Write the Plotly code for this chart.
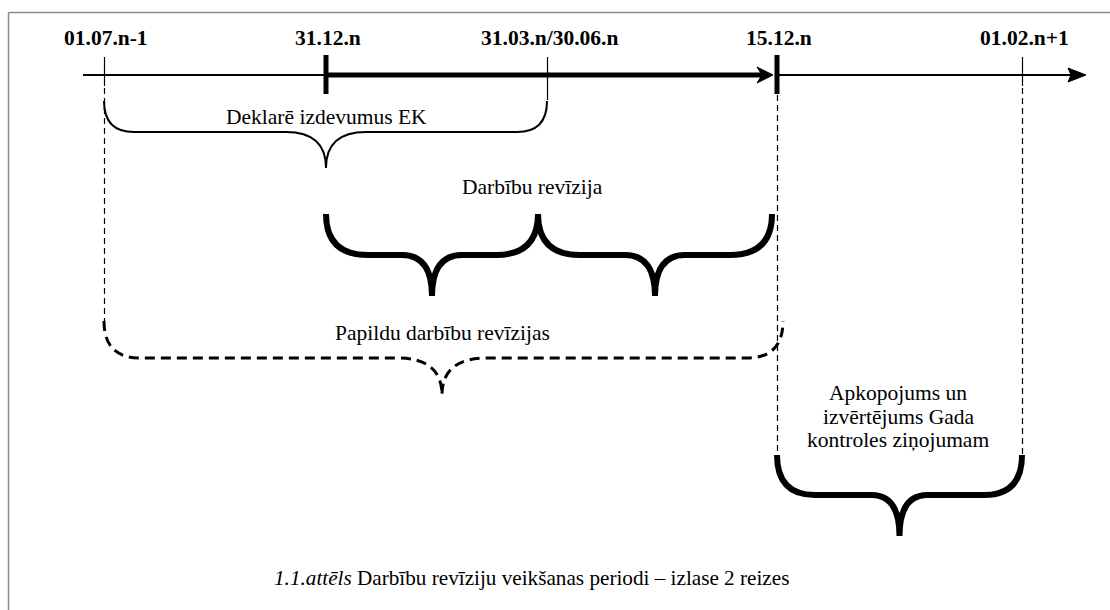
import plotly.graph_objects as go

# ---- data ----
dates = ["01.07.n-1", "31.12.n", "31.03.n/30.06.n", "15.12.n", "01.02.n+1"]
date_pos = [104, 326, 547, 777, 1022]          # position along the timeline
date_major = [False, True, False, True, False]  # thick tick marks

brace_labels = ["Deklarē izdevumus EK", "Darbību revīzija",
                "Papildu darbību revīzijas"]
summary_lines = ["Apkopojums un", "izvērtējums Gada", "kontroles ziņojumam"]
caption_italic = "1.1.attēls"
caption_text = "Darbību revīziju veikšanas periodi – izlase 2 reizes"

W, H = 1110, 610
AXIS_Y = 75
SERIF = "Liberation Serif"
FS = 21.5

fig = go.Figure()
shapes = []
ann = []


def line(x0, y0, x1, y1, width=2, dash=None, color="black"):
    d = dict(type="line", xref="x", yref="y", x0=x0, y0=y0, x1=x1, y1=y1,
             line=dict(color=color, width=width))
    if dash:
        d["line"]["dash"] = dash
    shapes.append(d)


def brace(x0, x1, ytop, yh, ytip, r, cw, width, dash=None, xt=None):
    if xt is None:
        xt = (x0 + x1) / 2
    p = (f"M {x0},{ytop} Q {x0},{yh} {x0 + r},{yh} "
         f"L {xt - cw},{yh} Q {xt},{yh} {xt},{ytip} "
         f"Q {xt},{yh} {xt + cw},{yh} "
         f"L {x1 - r},{yh} Q {x1},{yh} {x1},{ytop}")
    d = dict(type="path", xref="x", yref="y", path=p,
             line=dict(color="black", width=width))
    if dash:
        d["line"]["dash"] = dash
    shapes.append(d)


def label(x, y, text, size=FS):
    ann.append(dict(x=x, y=y, xref="x", yref="y", text=text, showarrow=False,
                    font=dict(family=SERIF, size=size, color="black"),
                    xanchor="center", yanchor="middle"))


# frame (top & left edges)
line(8.5, 12.5, W + 5, 12.5, width=1.5, color="#8a8a8a")
line(8.5, 12.5, 8.5, H + 5, width=1.5, color="#8a8a8a")

# timeline axis
x_a, x_b = date_pos[1], date_pos[3]
line(83, AXIS_Y, x_a, AXIS_Y, width=2)
line(x_a, AXIS_Y, x_b - 10, AXIS_Y, width=5)
line(x_b, AXIS_Y, 1072, AXIS_Y, width=2)
# arrow heads
shapes.append(dict(type="path", xref="x", yref="y",
                   path=f"M {x_b - 4},{AXIS_Y} L {x_b - 20},{AXIS_Y - 8} L {x_b - 15},{AXIS_Y} "
                        f"L {x_b - 20},{AXIS_Y + 8} Z",
                   fillcolor="black", line=dict(color="black", width=1)))
shapes.append(dict(type="path", xref="x", yref="y",
                   path=f"M 1086,{AXIS_Y} L 1068,{AXIS_Y - 7} L 1071,{AXIS_Y} L 1068,{AXIS_Y + 7} Z",
                   fillcolor="black", line=dict(color="black", width=1)))

# ticks and labels
for lab, xp, major in zip(dates, date_pos, date_major):
    if major:
        line(xp, 55, xp, 94, width=5)
    else:
        line(xp + 0.5, 57, xp + 0.5, 86 if xp != date_pos[2] else 100, width=1.2)
    label(xp + 2, 38, f"<b>{lab}</b>")

# dashed guide lines
line(date_pos[0] + 0.5, 88, date_pos[0] + 0.5, 322, width=1.2, dash="6px,4px")
line(date_pos[3] + 0.5, 95, date_pos[3] + 0.5, 456, width=1.2, dash="6px,4px")
line(date_pos[4] + 0.5, 88, date_pos[4] + 0.5, 456, width=1.2, dash="6px,4px")

# brace 1: declared expenditure
brace(date_pos[0], date_pos[2], 101, 132, 168, 30, 40, 2, xt=date_pos[1])
label(date_pos[1], 117, brace_labels[0])

# brace 2: audits (two thick braces)
mid = 538
brace(date_pos[1], mid, 214, 255, 296, 42, 30, 6)
brace(mid, 772, 214, 255, 296, 42, 30, 6)
label(mid - 6, 187, brace_labels[1])

# brace 3: additional audits (dashed)
brace(date_pos[0], 783, 321, 358, 395, 36, 45, 3, dash="10px,6px", xt=442)
label(442, 333, brace_labels[2])

# brace 4: summary
brace(date_pos[3], date_pos[4], 455, 495, 536, 38, 28, 6)
for i, t in enumerate(summary_lines):
    label(898, 393 + 23.5 * i, t)

# caption
label(531, 578, f"<i>{caption_italic}</i> {caption_text}", size=21.2)

fig.update_layout(
    width=W, height=H, margin=dict(l=0, r=0, t=0, b=0),
    paper_bgcolor="white", plot_bgcolor="white",
    xaxis=dict(range=[0, W], visible=False, fixedrange=True),
    yaxis=dict(range=[H, 0], visible=False, fixedrange=True),
    shapes=shapes, annotations=ann, showlegend=False,
)

fig.write_html("out.html", config={"displayModeBar": False},
               post_script="document.body.style.margin='0';document.body.style.overflow='hidden';")
